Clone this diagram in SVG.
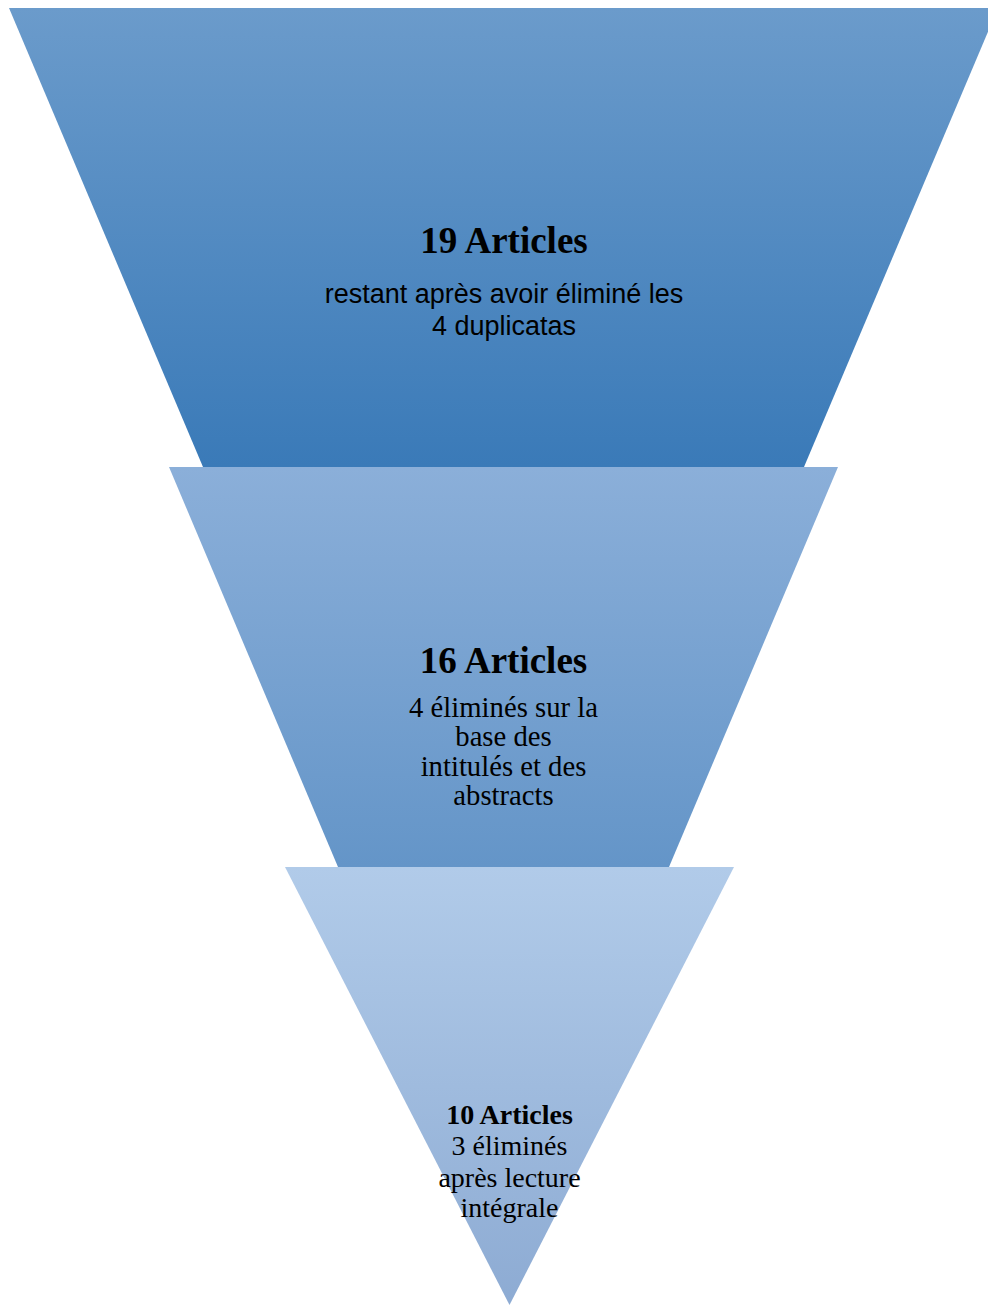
<svg xmlns="http://www.w3.org/2000/svg" width="988" height="1305" viewBox="0 0 988 1305">
  <defs>
    <linearGradient id="g1" x1="0" y1="0" x2="0" y2="1">
      <stop offset="0" stop-color="#6B9BCB"/>
      <stop offset="1" stop-color="#3A7AB8"/>
    </linearGradient>
    <linearGradient id="g2" x1="0" y1="0" x2="0" y2="1">
      <stop offset="0" stop-color="#8BAFD9"/>
      <stop offset="1" stop-color="#6495C8"/>
    </linearGradient>
    <linearGradient id="g3" x1="0" y1="0" x2="0" y2="1">
      <stop offset="0" stop-color="#B1CBE9"/>
      <stop offset="1" stop-color="#8DABD3"/>
    </linearGradient>
  </defs>
  <style>
    .title { font-family: "Liberation Serif", "Times New Roman", serif; font-weight: bold; fill: #000; text-anchor: middle; }
    .serif { font-family: "Liberation Serif", "Times New Roman", serif; fill: #000; text-anchor: middle; }
    .sans { font-family: "Liberation Sans", Arial, sans-serif; fill: #000; text-anchor: middle; }
  </style>
  <rect width="988" height="1305" fill="#ffffff"/>
  <g id="level1">
    <polygon points="9,8 998,8 804,467 203,467" fill="url(#g1)"/>
    <text class="title" x="504" y="253" font-size="37">19 Articles</text>
    <text class="sans" x="504" y="303" font-size="27">restant après avoir éliminé les</text>
    <text class="sans" x="504" y="335" font-size="27">4 duplicatas</text>
  </g>
  <g id="level2">
    <polygon points="169,467 838,467 669,867 338,867" fill="url(#g2)"/>
    <text class="title" x="503.5" y="673" font-size="37">16 Articles</text>
    <text class="serif" x="503.5" y="716.5" font-size="28.7">4 éliminés sur la</text>
    <text class="serif" x="503.5" y="746" font-size="28.7">base des</text>
    <text class="serif" x="503.5" y="775.5" font-size="28.7">intitulés et des</text>
    <text class="serif" x="503.5" y="805" font-size="28.7">abstracts</text>
  </g>
  <g id="level3">
    <polygon points="285,867 734,867 509.5,1305" fill="url(#g3)"/>
    <text class="title" x="509.5" y="1124" font-size="28">10 Articles</text>
    <text class="serif" x="509.5" y="1155" font-size="28">3 éliminés</text>
    <text class="serif" x="509.5" y="1187" font-size="28">après lecture</text>
    <text class="serif" x="509.5" y="1217" font-size="28">intégrale</text>
  </g>
  <g id="connectors"/>
</svg>
